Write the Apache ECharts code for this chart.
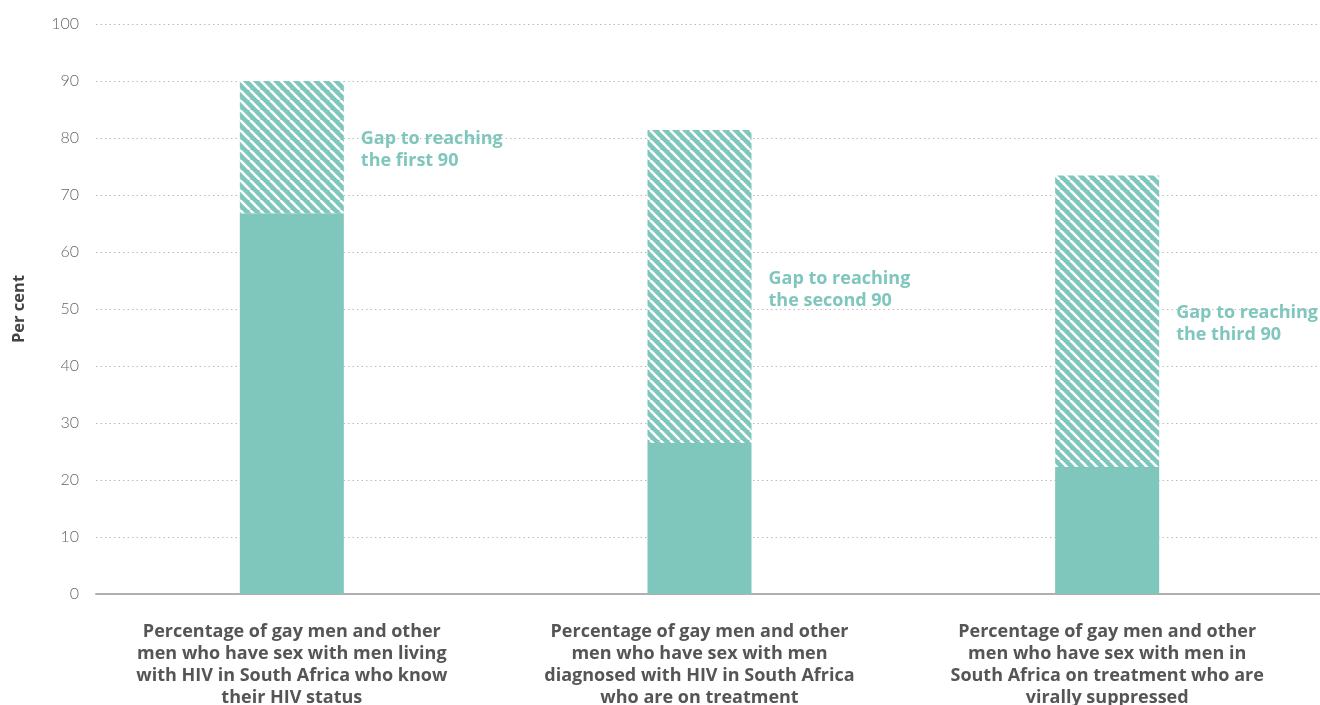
<!DOCTYPE html>
<html>
<head>
<meta charset="utf-8">
<script src="https://cdn.jsdelivr.net/npm/echarts@6/dist/echarts.min.js"></script>
<style>
html,body{margin:0;padding:0;background:#fff;}
#chart{width:1320px;height:705px;}
</style>
</head>
<body>
<div id="chart"></div>
<script>
var categories = [
  "Percentage of gay men and other\nmen who have sex with men living\nwith HIV in South Africa who know\ntheir HIV status",
  "Percentage of gay men and other\nmen who have sex with men\ndiagnosed with HIV in South Africa\nwho are on treatment",
  "Percentage of gay men and other\nmen who have sex with men in\nSouth Africa on treatment who are\nvirally suppressed"
];
var achieved = [66.8, 26.5, 22.3];
var gap = [23.2, 54.9, 51.1];
var gapLabels = ["Gap to reaching\nthe first 90", "Gap to reaching\nthe second 90", "Gap to reaching\nthe third 90"];
var yTicks = [0, 10, 20, 30, 40, 50, 60, 70, 80, 90, 100];

var TEAL = '#7fc6bd';
function hatch() {
  var c = document.createElement('canvas');
  c.width = 10; c.height = 10;
  var ctx = c.getContext('2d');
  ctx.fillStyle = TEAL;
  ctx.fillRect(0, 0, 10, 10);
  ctx.strokeStyle = '#ffffff';
  ctx.lineWidth = 2.6;
  [-10, 0, 10].forEach(function (k) {
    ctx.beginPath();
    ctx.moveTo(k, 0);
    ctx.lineTo(k + 10, 10);
    ctx.stroke();
  });
  return c;
}

var chart = echarts.init(document.getElementById('chart'), null, {renderer: 'canvas'});
var FONT = 'Open Sans';
chart.setOption({
  animation: false,
  grid: [
    {left: 96, right: 0, top: 24, bottom: 111, containLabel: false, outerBoundsMode: 'none'},
    {left: 88, right: 9, top: 24, bottom: 111, containLabel: false, outerBoundsMode: 'none'}
  ],
  xAxis: [
    {gridIndex: 0, type: 'category', data: categories,
     axisLine: {show: true, lineStyle: {color: '#b0b0b0', width: 2}},
     axisTick: {show: false}, axisLabel: {show: false}, splitLine: {show: false}},
    {gridIndex: 1, type: 'category', data: categories,
     axisLine: {show: false}, axisTick: {show: false},
     axisLabel: {show: true, interval: 0, margin: 27, fontFamily: FONT, fontWeight: 'bold',
       fontSize: 18, lineHeight: 22, color: '#555555', align: 'center'}}
  ],
  yAxis: [
    {gridIndex: 0, type: 'value', min: yTicks[0], max: yTicks[yTicks.length - 1], interval: 10,
     name: 'Per cent', nameLocation: 'middle', nameGap: 68, nameRotate: 90,
     nameTextStyle: {fontFamily: FONT, fontWeight: 'bold', fontSize: 16.5, color: '#444444'},
     axisLine: {show: false}, axisTick: {show: false},
     axisLabel: {margin: 17, fontFamily: 'Lato', fontSize: 16, color: '#666666', fontWeight: 300},
     splitLine: {show: true, lineStyle: {color: '#bbbbbb', type: [1.5, 3], width: 1}}},
    {gridIndex: 1, type: 'value', min: 0, max: 100, interval: 10, show: false, splitLine: {show: false}}
  ],
  series: [
    {type: 'bar', xAxisIndex: 1, yAxisIndex: 1, stack: 'a', data: achieved, barWidth: 104,
     itemStyle: {color: TEAL}},
    {type: 'bar', xAxisIndex: 1, yAxisIndex: 1, stack: 'a', barWidth: 104,
     data: gap.map(function (v, i) {
       return {value: v, label: {formatter: gapLabels[i]}};
     }),
     itemStyle: {color: {image: hatch(), repeat: 'repeat'}},
     label: {show: true, position: 'right', distance: 17, offset: [0, 3], fontFamily: FONT, fontWeight: 'bold',
       fontSize: 18, lineHeight: 22, color: TEAL, align: 'left'}}
  ]
});
</script>
</body>
</html>
